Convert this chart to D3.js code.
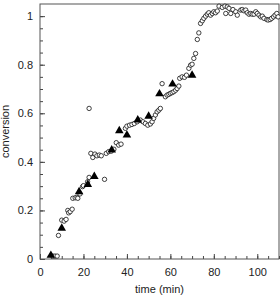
<!DOCTYPE html>
<html>
<head>
<meta charset="utf-8">
<script src="https://cdn.jsdelivr.net/npm/d3@7"></script>
<style>
  body { margin: 0; background: #fff; }
  svg { display: block; font-family: "Liberation Sans", Arial, sans-serif; }
</style>
</head>
<body>
<svg id="chart"></svg>
<script>
// open circles: time (min) and conversion
const circleTime = [5.9, 6.9, 7.9, 8.5, 10, 11.1, 12, 12.8, 13.2, 13.9, 14.8, 15.1, 16.2, 17, 17.4,
  18.4, 19.6, 20, 21.9, 22.6, 22.6, 23.4, 24.3, 25.3, 26.2, 27.3, 28.2, 29.7, 30.5, 31.6, 32.8, 34,
  35.1, 36.2, 37.3, 39.3, 40, 41.2, 42.3, 43.4, 44.7, 46.2, 47.4, 48.5, 49.6, 50.8, 51.6, 52.3, 53.1,
  53.9, 54.7, 55.4, 56.2, 57.7, 58.5, 59.3, 60, 60.8, 61.6, 62.4, 63.1, 63.9, 64.3, 65.4, 66.5, 67.4,
  68.5, 69.3, 70, 70.8, 71.6, 72.4, 73.1, 73.9, 74.7, 75.4, 76.2, 77, 77.7, 78.5, 79.3, 80, 80.8, 81.6,
  82.4, 83.9, 85.1, 85.5, 86.2, 87, 87.8, 88.8, 90.1, 90.8, 92.4, 93.1, 93.9, 94.7, 95.4, 96.2, 97,
  97.7, 98.5, 99.3, 100, 100.8, 101.6, 102.3, 103.1, 104.4, 105, 105.9, 106.6, 107.5, 108.2, 109, 109.6];
const circleConv = [0.012, 0.012, 0.012, 0.097, 0.16, 0.156, 0.163, 0.2, 0.19, 0.195, 0.205, 0.25, 0.252, 0.254, 0.25,
  0.268, 0.298, 0.302, 0.318, 0.336, 0.62, 0.435, 0.418, 0.432, 0.425, 0.428, 0.425, 0.328, 0.435, 0.442, 0.444, 0.452,
  0.479, 0.469, 0.473, 0.538, 0.547, 0.551, 0.554, 0.558, 0.565, 0.572, 0.565, 0.558, 0.551, 0.556, 0.565, 0.579, 0.593,
  0.606, 0.613, 0.62, 0.722, 0.668, 0.675, 0.678, 0.682, 0.685, 0.689, 0.695, 0.702, 0.712, 0.744, 0.75, 0.748, 0.757,
  0.785, 0.798, 0.802, 0.826, 0.846, 0.904, 0.931, 0.97, 0.981, 0.991, 1.0, 1.008, 1.014, 1.004, 1.011, 1.018, 1.014, 1.021,
  1.041, 1.036, 1.041, 1.011, 1.038, 1.032, 1.011, 1.027, 1.018, 1.004, 1.025, 1.027, 1.022, 1.025, 1.014, 1.008, 1.011,
  1.008, 1.008, 1.018, 1.011, 1.004, 0.997, 1.0, 0.991, 0.986, 0.984, 0.986, 0.991, 0.997, 1.004, 1.011, 0.997];

// filled triangles
const triTime = [5, 10, 18, 22, 25, 33, 36.5, 40, 45, 50, 55, 61, 70];
const triConv = [0.015, 0.127, 0.277, 0.307, 0.34, 0.449, 0.528, 0.51, 0.572, 0.588, 0.68, 0.72, 0.757];

const xTicks = [0, 20, 40, 60, 80, 100];
const yTicks = [0, 0.2, 0.4, 0.6, 0.8, 1];

const margin = { top: 4, right: 1, bottom: 37, left: 40 };
const W = 280, H = 296;
const width = W - margin.left - margin.right;
const height = H - margin.top - margin.bottom;

const svg = d3.select("#chart").attr("width", W).attr("height", H);
const g = svg.append("g").attr("transform", `translate(${margin.left},${margin.top})`);

const x = d3.scaleLinear().domain([0, 110]).range([0, width]);
const y = d3.scaleLinear().domain([0, 1.05]).range([height, 0]);

// minor ticks
g.append("g")
  .attr("transform", `translate(0,${height})`)
  .call(d3.axisBottom(x).tickValues(d3.range(0, 111, 5)).tickSize(-3).tickFormat(""))
  .call(a => a.select(".domain").remove());
g.append("g")
  .call(d3.axisLeft(y).tickValues(d3.range(0, 21).map(i => i * 0.05)).tickSize(-3).tickFormat(""))
  .call(a => a.select(".domain").remove());

// major ticks with labels
const xAxis = g.append("g")
  .attr("transform", `translate(0,${height})`)
  .call(d3.axisBottom(x).tickValues(xTicks).tickSize(-5).tickPadding(9).tickFormat(d3.format("d")));
xAxis.select(".domain").remove();
xAxis.selectAll("text").style("font-size", "11px").attr("fill", "#222");

const yAxis = g.append("g")
  .call(d3.axisLeft(y).tickValues(yTicks).tickSize(-5).tickPadding(7).tickFormat(d => d3.format("")(d)));
yAxis.select(".domain").remove();
yAxis.selectAll("text").style("font-size", "11px").attr("fill", "#222");

g.selectAll(".tick line").attr("stroke", "#444");

// frame
g.append("rect")
  .attr("x", 0).attr("y", 0)
  .attr("width", width).attr("height", height)
  .attr("fill", "none")
  .attr("stroke", "#555")
  .attr("stroke-width", 1);

const plot = g.append("g");

plot.selectAll(".circle-pt")
  .data(circleTime.map((t, i) => ({ t, c: circleConv[i] })))
  .join("circle")
  .attr("class", "circle-pt")
  .attr("cx", d => x(d.t))
  .attr("cy", d => y(d.c))
  .attr("r", 2.2)
  .attr("fill", "#fff")
  .attr("stroke", "#111")
  .attr("stroke-width", 0.8);

const tri = d3.symbol().type(d3.symbolTriangle).size(32);
plot.selectAll(".tri-pt")
  .data(triTime.map((t, i) => ({ t, c: triConv[i] })))
  .join("path")
  .attr("class", "tri-pt")
  .attr("transform", d => `translate(${x(d.t)},${y(d.c)})`)
  .attr("d", tri)
  .attr("fill", "#000");

// axis titles
svg.append("text")
  .attr("x", margin.left + x(55))
  .attr("y", 293)
  .attr("text-anchor", "middle")
  .style("font-size", "11px")
  .attr("fill", "#222")
  .text("time (min)");

svg.append("text")
  .attr("transform", `translate(9,${margin.top + height / 2}) rotate(-90)`)
  .attr("text-anchor", "middle")
  .style("font-size", "11px")
  .attr("fill", "#222")
  .text("conversion");
</script>
</body>
</html>
